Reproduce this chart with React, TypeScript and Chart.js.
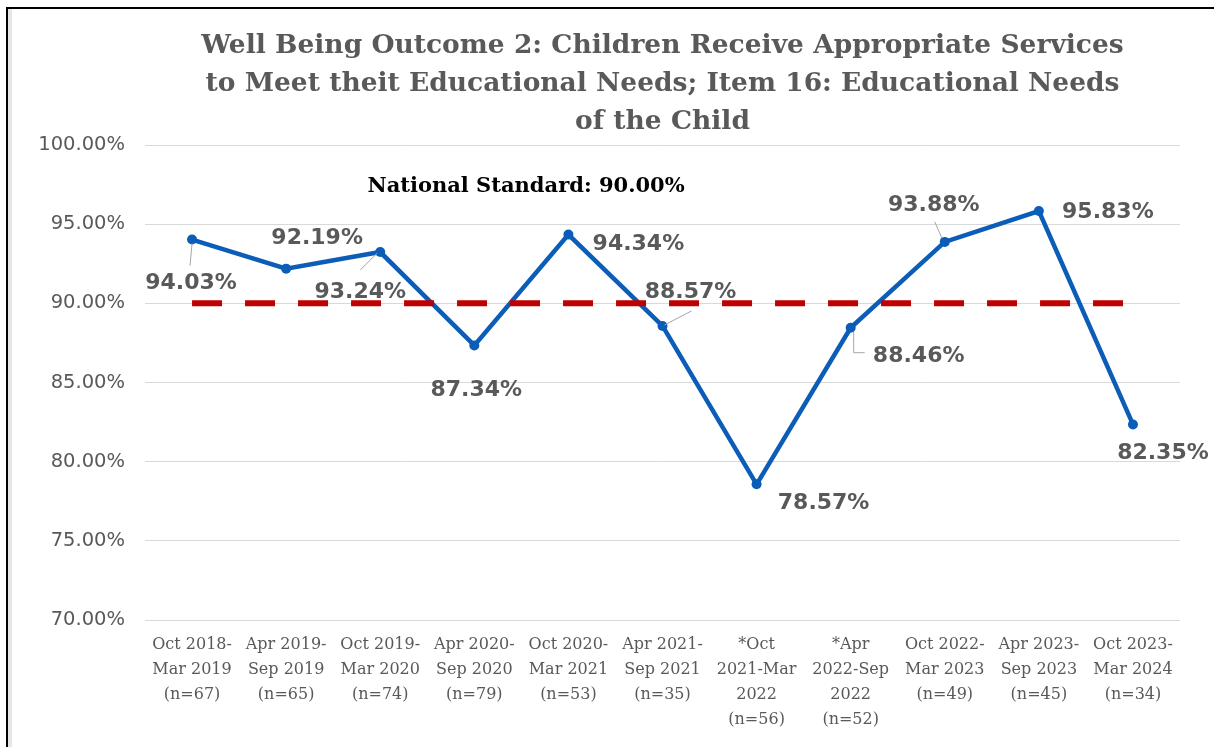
import React, { useEffect, useRef } from "react";
import { Chart, registerables } from "chart.js";

Chart.register(...registerables);

const TITLE_LINES = [
  "Well Being Outcome 2: Children Receive Appropriate Services",
  "to Meet theit Educational Needs; Item 16: Educational Needs",
  "of the Child",
];

const CATEGORIES: string[][] = [
  ["Oct 2018-", "Mar 2019", "(n=67)"],
  ["Apr 2019-", "Sep 2019", "(n=65)"],
  ["Oct 2019-", "Mar 2020", "(n=74)"],
  ["Apr 2020-", "Sep 2020", "(n=79)"],
  ["Oct 2020-", "Mar 2021", "(n=53)"],
  ["Apr 2021-", "Sep 2021", "(n=35)"],
  ["*Oct", "2021-Mar", "2022", "(n=56)"],
  ["*Apr", "2022-Sep", "2022", "(n=52)"],
  ["Oct 2022-", "Mar 2023", "(n=49)"],
  ["Apr 2023-", "Sep 2023", "(n=45)"],
  ["Oct 2023-", "Mar 2024", "(n=34)"],
];

const OUTCOME_VALUES = [94.03, 92.19, 93.24, 87.34, 94.34, 88.57, 78.57, 88.46, 93.88, 95.83, 82.35];
const NATIONAL_STANDARD = [90, 90, 90, 90, 90, 90, 90, 90, 90, 90, 90];
const STANDARD_LABEL = "National Standard: 90.00%";

const Y_MIN = 70;
const Y_MAX = 100;
const Y_STEP = 5;

// label placement (style), relative to each point: [dx, dy]
const LABEL_OFFSETS: [number, number][] = [
  [-1, 44],
  [31, -30],
  [-20, 40],
  [2, 45],
  [70, 10],
  [28, -34],
  [67, 19],
  [68, 29],
  [-11, -37],
  [69, 1],
  [30, 29],
];
// leader lines relative to point
const LEADERS: ([number, number][] | null)[] = [
  [[0, 4], [-2, 26]],
  null,
  [[-3, 1], [-20, 18]],
  null,
  null,
  [[2, -1], [29, -15]],
  null,
  [[3, 4], [3, 25], [14, 25]],
  [[-3, -4], [-10, -20]],
  null,
  null,
];

const BLUE = "#0B5DB8";
const RED = "#C00000";
const GRAY_TEXT = "#595959";

const annotationsPlugin = {
  id: "annotations",
  afterDatasetsDraw(chart: any) {
    const ctx = chart.ctx;
    const meta = chart.getDatasetMeta(1);
    ctx.save();
    meta.data.forEach((pt: any, i: number) => {
      const leader = LEADERS[i];
      if (leader) {
        ctx.beginPath();
        ctx.strokeStyle = "#A6A6A6";
        ctx.lineWidth = 1;
        leader.forEach(([lx, ly], k) => {
          if (k === 0) ctx.moveTo(pt.x + lx, pt.y + ly);
          else ctx.lineTo(pt.x + lx, pt.y + ly);
        });
        ctx.stroke();
      }
      const [dx, dy] = LABEL_OFFSETS[i];
      ctx.font = "bold 22px 'DejaVu Sans'";
      ctx.fillStyle = GRAY_TEXT;
      ctx.textAlign = "center";
      ctx.textBaseline = "middle";
      ctx.fillText(OUTCOME_VALUES[i].toFixed(2) + "%", pt.x + dx, pt.y + dy);
    });
    const xs = chart.scales.x;
    const ys = chart.scales.y;
    ctx.font = "bold 21px 'DejaVu Serif'";
    ctx.fillStyle = "#000000";
    ctx.textAlign = "center";
    ctx.textBaseline = "middle";
    ctx.fillText(STANDARD_LABEL, xs.getPixelForValue(3.55), ys.getPixelForValue(97.4));
    ctx.restore();
  },
};

export default function App() {
  const ref = useRef<HTMLCanvasElement>(null);

  useEffect(() => {
    if (!ref.current) return;
    const chart = new Chart(ref.current, {
      type: "line",
      data: {
        labels: CATEGORIES as any,
        datasets: [
          {
            label: "National Standard",
            data: NATIONAL_STANDARD,
            borderColor: RED,
            borderWidth: 6,
            borderDash: [30, 23],
            borderCapStyle: "butt",
            pointRadius: 0,
            fill: false,
          },
          {
            label: "Outcome",
            data: OUTCOME_VALUES,
            borderColor: BLUE,
            backgroundColor: BLUE,
            borderWidth: 4.5,
            pointRadius: 5,
            pointBorderWidth: 0,
            pointBackgroundColor: BLUE,
            tension: 0,
            fill: false,
          },
        ],
      },
      options: {
        animation: false,
        responsive: false,
        devicePixelRatio: 1,
        layout: { padding: { left: 0, right: 34, top: 0, bottom: 0 } },
        plugins: {
          legend: { display: false },
          tooltip: { enabled: false },
          title: {
            display: true,
            text: TITLE_LINES,
            fullSize: false,
            color: GRAY_TEXT,
            font: { family: "'DejaVu Serif'", size: 26.5, weight: "bold", lineHeight: 38 / 26.5 },
            padding: { top: 18, bottom: 4 },
          },
        },
        scales: {
          x: {
            offset: true,
            grid: { display: false, drawTicks: false },
            border: { display: false },
            ticks: {
              autoSkip: false,
              maxRotation: 0,
              minRotation: 0,
              padding: 12,
              color: GRAY_TEXT,
              font: { family: "'DejaVu Serif'", size: 16, lineHeight: 1.5625 },
            },
            afterFit: (s: any) => {
              s.height = 127;
            },
          },
          y: {
            min: Y_MIN,
            max: Y_MAX,
            grid: { color: "#D9D9D9", lineWidth: 1, drawTicks: false },
            border: { display: false },
            ticks: {
              stepSize: Y_STEP,
              padding: 20,
              color: GRAY_TEXT,
              font: { family: "'DejaVu Sans'", size: 19.5 },
              callback: (v: any) => Number(v).toFixed(2) + "%",
            },
            afterFit: (s: any) => {
              s.width = 133;
            },
          },
        },
      },
      plugins: [annotationsPlugin],
    });
    return () => chart.destroy();
  }, []);

  return (
    <div
      style={{
        position: "absolute",
        left: 6,
        top: 7,
        width: 1208,
        height: 740,
        borderTop: "2px solid #000",
        borderLeft: "2px solid #000",
        boxSizing: "border-box",
        background: "#fff",
      }}
    >
      <div style={{ borderLeft: "4px solid #E6E6E6", height: "100%", boxSizing: "border-box" }}>
        <canvas ref={ref} width={1202} height={738} style={{ display: "block" }} />
      </div>
    </div>
  );
}
